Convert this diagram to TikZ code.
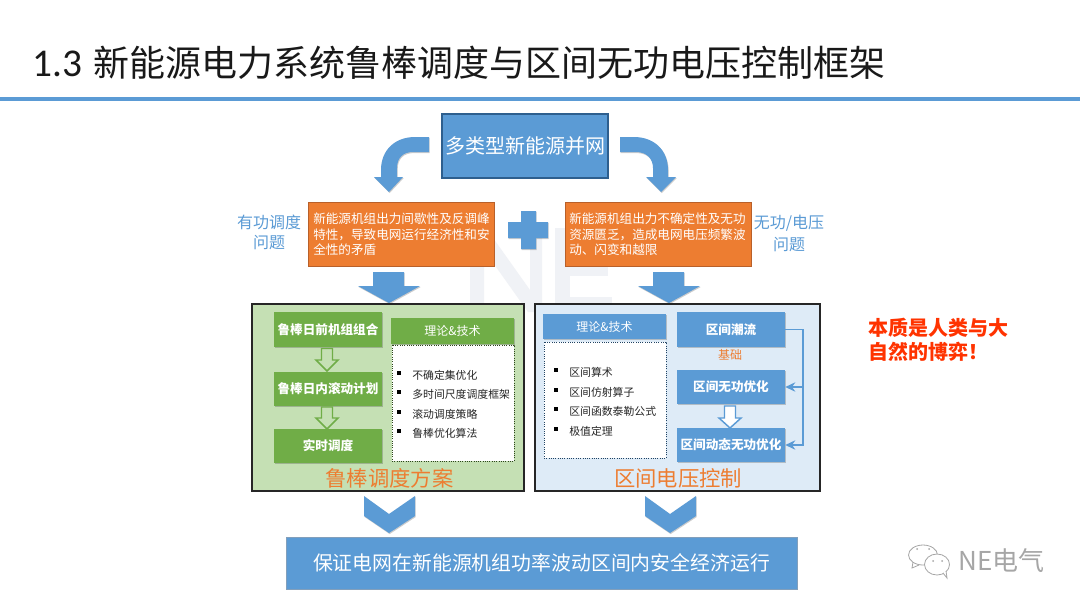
\documentclass[tikz,border=0pt]{standalone}
\usepackage{fontspec}
\setmainfont{Noto Sans CJK SC}
\newfontfamily\latinf{Carlito}
\usetikzlibrary{shadows,calc,arrows.meta}
\definecolor{mblue}{HTML}{5B9BD5}
\definecolor{mbluedk}{HTML}{2E5F8E}
\definecolor{morange}{HTML}{ED7D31}
\definecolor{morangedk}{HTML}{B8602A}
\definecolor{mgreen}{HTML}{70AD47}
\definecolor{pgreen}{HTML}{C5E0B4}
\definecolor{pblue}{HTML}{DEEBF7}
\definecolor{wmark}{HTML}{F0F2F6}
\newcommand{\fz}[1]{\fontsize{#1pt}{#1pt}\selectfont}
\tikzset{
 softshadow/.style={drop shadow={shadow xshift=.5pt,shadow yshift=-.8pt,opacity=.2,fill=black}},
 blockarrow/.style={fill=mblue,draw=none,softshadow},
 hollowgreen/.style={fill=pgreen,draw=mgreen,line width=1.1pt,line join=miter},
 hollowblue/.style={fill=white,draw=mblue,line width=1.1pt,line join=miter},
 bigbox/.style={fill=mblue,draw=mbluedk,line width=.8pt,text=white,inner sep=0pt,softshadow},
 orangebox/.style={fill=morange,draw=morangedk,line width=.5pt,inner sep=0pt,softshadow,minimum width=139.5pt,minimum height=48pt},
 orangetext/.style={anchor=west,text=white,font=\fz{9.45},inner sep=0pt},
 sidelabel/.style={text=mblue,font=\fz{12},inner sep=0pt},
 panel/.style={draw=black!85,line width=1.1pt,inner sep=0pt,minimum height=140pt,softshadow},
 stagegreen/.style={fill=mgreen,draw=none,text=white,inner sep=0pt,minimum width=81pt,minimum height=26pt,font=\fz{9.45}\bfseries,softshadow},
 stageblue/.style={fill=mblue,draw=none,text=white,inner sep=0pt,minimum width=81pt,minimum height=26pt,font=\fz{9.45}\bfseries,softshadow},
 headbox/.style={draw=none,text=white,inner sep=0pt,minimum width=92pt,minimum height=19pt,font=\fz{9},softshadow},
 dotbox/.style={fill=white,draw=black!75,densely dotted,line width=.7pt,inner sep=0pt,minimum width=91.5pt,minimum height=87pt},
 bulletmark/.style={fill=black,draw=none,inner sep=0pt,minimum size=3.4pt},
 bullettext/.style={anchor=west,inner sep=0pt,font=\fz{8.15},text=black!85},
 paneltitle/.style={text=morange,inner sep=0pt,font=\fz{16}},
 wmshape/.style={fill=wmark,draw=none},
 linkarrow/.style={mblue,line width=1.4pt,-{Stealth[length=7.5pt,width=7pt]}},
 remark/.style={anchor=west,inner sep=0pt,text={rgb,255:red,255;green,51;blue,0},font=\fz{15}\bfseries},
}
\begin{document}
\begin{tikzpicture}[x=0.75pt,y=-0.75pt]
\useasboundingbox (0,0) rectangle (1080,608);
\fill[white] (0,0) rectangle (1080,608);
% watermark letters
\fill[wmshape] (470,228) -- (486,228) -- (530,290) -- (530,228) -- (542,228) -- (542,312) -- (528,312) -- (484,250) -- (484,312) -- (470,312) -- cycle;
\fill[wmshape] (555,228) rectangle (612,243);
\fill[wmshape] (555,228) rectangle (570,312);
\fill[wmshape] (555,262) rectangle (608,276);
\fill[wmshape] (555,297) rectangle (612,312);
% title
\node[anchor=west,inner sep=0pt,text=black!90] (title) at (32,63) {{\latinf\fz{29.5}1.3}\hspace{8.5pt}\fz{27}新能源电力系统鲁棒调度与区间无功电压控制框架};
\coordinate (ruleL) at (0,99);
\coordinate (ruleR) at (1080,99);
\draw[mblue,line width=2.4pt] (ruleL) -- (ruleR);
% source
\node[bigbox,minimum width=124.5pt,minimum height=48pt,font=\fz{15}] (src) at (525,146) {多类型新能源并网};
% bent arrows
\path[blockarrow] (429,137) -- (429,152) -- (413,152) .. controls (403,152) and (397,158) .. (397,168) -- (397,177) -- (403,177) -- (389,192) -- (374,177) -- (381,177) -- (381,170) .. controls (381,150) and (395,137) .. (415,137) -- cycle;
\path[blockarrow] (620,137) -- (634,137) .. controls (654,137) and (668,150) .. (668,170) -- (668,177) -- (676,177) -- (661,192) -- (646,177) -- (653,177) -- (653,168) .. controls (653,158) and (646,152) .. (636,152) -- (620,152) -- cycle;
% orange boxes
\node[orangebox] (ol) at (401,234) {};
\node[orangebox] (or) at (658,234) {};
\node[orangetext] (ol1) at (313,218.5) {新能源机组出力间歇性及反调峰};
\node[orangetext] (ol2) at (313,234.5) {特性，导致电网运行经济性和安};
\node[orangetext] (ol3) at (313,249.5) {全性的矛盾};
\node[orangetext] (or1) at (569,218.5) {新能源机组出力不确定性及无功};
\node[orangetext] (or2) at (569,234.5) {资源匮乏，造成电网电压频繁波};
\node[orangetext] (or3) at (569,249.5) {动、闪变和越限};
% plus
\path[blockarrow] (521,211) -- (536,211) -- (536,222) -- (548,222) -- (548,238) -- (536,238) -- (536,249) -- (521,249) -- (521,238) -- (508,238) -- (508,222) -- (521,222) -- cycle;
% side labels
\node[sidelabel] (ll1) at (269,222) {有功调度};
\node[sidelabel] (ll2) at (269,243) {问题};
\node[sidelabel] (rl1) at (789,223) {无功/电压};
\node[sidelabel] (rl2) at (789,245) {问题};
% down arrows
\path[blockarrow] (373,272) -- (404,272) -- (404,286) -- (420,286) -- (389,303) -- (358,286) -- (373,286) -- cycle;
\path[blockarrow] (653,272) -- (684,272) -- (684,286) -- (700,286) -- (669,303) -- (638,286) -- (653,286) -- cycle;
% green panel
\node[panel,fill=pgreen,minimum width=204pt] (pg) at (388,397.5) {};
\node[stagegreen] (g1) at (328,329.5) {鲁棒日前机组组合};
\node[stagegreen] (g2) at (328,389) {鲁棒日内滚动计划};
\node[stagegreen] (g3) at (328,446) {实时调度};
\path[hollowgreen] (321.5,348.5) -- (332.5,348.5) -- (332.5,360) -- (338,360) -- (327,371) -- (316,360) -- (321.5,360) -- cycle;
\path[hollowgreen] (321.5,407) -- (332.5,407) -- (332.5,418) -- (338,418) -- (327,429) -- (316,418) -- (321.5,418) -- cycle;
\node[headbox,fill=mgreen] (hg) at (452.5,331) {理论\&技术};
\node[dotbox,draw=mgreen!40!black] (dg) at (453,403) {};
\foreach \i/\yy/\t in {1/374/不确定集优化,2/393/多时间尺度调度框架,3/413/滚动调度策略,4/432/鲁棒优化算法}{
  \node[bulletmark] (gb\i) at (399,\yy-1) {};
  \node[bullettext] (gt\i) at (412,\yy+1) {\t};
}
\node[paneltitle] (tg) at (389.5,478) {鲁棒调度方案};
% blue panel
\node[panel,fill=pblue,minimum width=213.75pt] (pb) at (677.5,397.5) {};
\node[headbox,fill=mblue] (hb) at (604.5,326.5) {理论\&技术};
\node[dotbox,draw=mbluedk!70!black] (db) at (605,400) {};
\foreach \i/\yy/\t in {1/371/区间算术,2/391/区间仿射算子,3/410/区间函数泰勒公式,4/430/极值定理}{
  \node[bulletmark] (bb\i) at (556,\yy-1) {};
  \node[bullettext] (bt\i) at (569,\yy+1) {\t};
}
\node[stageblue] (q1) at (731,329.5) {区间潮流};
\node[stageblue] (q2) at (731,387) {区间无功优化};
\node[stageblue] (q3) at (731,445) {区间动态无功优化};
\node[inner sep=0pt,text=morange,font=\fz{9}] (base) at (730,355) {基础};
\path[hollowblue] (724.5,406) -- (735.5,406) -- (735.5,418) -- (741,418) -- (730,428) -- (719,418) -- (724.5,418) -- cycle;
\coordinate (bus) at (803,329.5);
\draw[linkarrow] (q1.east) -- (bus) -- (bus |- q3.east) -- (q3.east);
\draw[linkarrow] (bus |- q2.east) -- (q2.east);
\node[paneltitle] (tb) at (678,478) {区间电压控制};
% chevrons
\path[blockarrow] (364,496) -- (389,514) -- (415,496) -- (415,516) -- (389,533) -- (364,516) -- cycle;
\path[blockarrow] (645,496) -- (670,514) -- (696,496) -- (696,516) -- (670,533) -- (645,516) -- cycle;
% result
\node[fill=mblue,draw=mbluedk!60,line width=.5pt,text=white,inner sep=0pt,softshadow,minimum width=383pt,minimum height=39pt,font=\fz{14.9}] (res) at (541.5,563) {保证电网在新能源机组功率波动区间内安全经济运行};
% remark
\node[remark] (r1) at (868,328) {本质是人类与大};
\node[remark] (r2) at (868,352) {自然的博弈！};
% wechat mark
\draw[black!35,line width=.6pt] (923,555) ellipse (14.5 and 10);
\draw[black!35,line width=.6pt,fill=white] (937,564.5) ellipse (12.5 and 10.5);
\fill[black!35] (917,549) circle (1) (929,549) circle (1) (933,561) circle (1) (942,561) circle (1);
\draw[black!35,line width=.6pt] (913,562) -- (912,568) -- (919,565);
\draw[black!35,line width=.6pt,fill=white] (943,573) -- (947,578) -- (946,571);
\node[anchor=west,inner sep=0pt,text=black!35,font=\fz{19.5}] (ne) at (958,561) {NE电气};
\end{tikzpicture}
\end{document}
